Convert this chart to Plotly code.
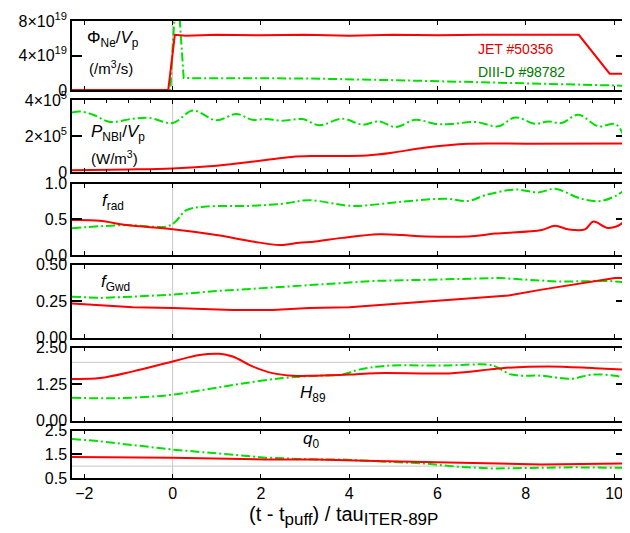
import plotly.graph_objects as go

# ---------------- data ----------------
# Panel 1: Phi_Ne / Vp  (units of 1e19 /m^3/s)
p1_jet_x = [-2.28, -0.1, 0.05, 0.3, 1.0, 2.0, 3.0, 4.0, 5.0, 6.0, 7.0, 8.0, 9.2, 9.9, 10.27]
p1_jet_y = [0.0, 0.0, 6.4, 6.3, 6.4, 6.35, 6.4, 6.3, 6.4, 6.35, 6.4, 6.4, 6.4, 1.9, 1.9]
p1_d3d_x = [-2.28, -0.05, 0.0, 0.05, 0.15, 0.25, 0.5, 3.0, 5.0, 6.6, 8.5, 10.27]
p1_d3d_y = [0.0, 0.0, 5.0, 9.0, 9.0, 1.4, 1.38, 1.35, 1.15, 0.95, 0.7, 0.5]

# Panel 2: P_NBI / Vp  (units of 1e5 W/m^3)
p2_jet_x = [-2.28, -1.0, 0.0, 1.0, 1.36, 2.11, 2.7, 3.24, 4.4, 5.0, 5.7, 6.7, 8.0, 10.27]
p2_jet_y = [0.1, 0.14, 0.2, 0.35, 0.44, 0.67, 0.84, 0.89, 0.92, 1.08, 1.35, 1.57, 1.57, 1.58]
p2_d3d_x = [-2.28, -2.1, -1.8, -1.42, -0.9, -0.52, 0.0, 0.46, 0.99, 1.44, 1.81, 2.11, 2.49, 2.94,
            3.32, 3.84, 4.30, 4.67, 5.05, 5.50, 5.95, 6.33, 6.86, 7.38, 7.76, 8.21, 8.51, 8.81,
            9.19, 9.64, 10.02, 10.17, 10.27]
p2_d3d_y = [3.30, 3.36, 3.18, 2.78, 2.96, 3.0, 2.72, 3.41, 2.87, 3.22, 2.90, 2.94, 2.85, 2.94,
            2.6, 2.96, 2.63, 2.81, 2.50, 2.90, 2.67, 2.67, 2.78, 2.54, 3.03, 2.68, 2.81, 2.72,
            3.18, 2.54, 2.67, 2.26, 1.1]

# Panel 3: f_rad
p3_jet_x = [-2.28, -1.65, -1.05, 0.0, 0.99, 1.81, 2.42, 2.87, 3.24, 3.84, 4.67, 5.20, 5.73, 6.70,
            7.31, 8.36, 8.66, 8.96, 9.34, 9.53, 9.86, 10.17, 10.27]
p3_jet_y = [0.49, 0.48, 0.42, 0.36, 0.28, 0.19, 0.14, 0.17, 0.19, 0.24, 0.29, 0.28, 0.26, 0.26,
            0.30, 0.35, 0.41, 0.36, 0.36, 0.47, 0.38, 0.44, 0.54]
p3_d3d_x = [-2.28, -1.05, -0.14, 0.05, 0.31, 0.76, 1.74, 2.49, 3.09, 4.07, 5.20, 6.18, 6.70, 7.08,
            7.76, 8.28, 8.66, 9.26, 9.71, 10.09, 10.27]
p3_d3d_y = [0.375, 0.42, 0.40, 0.46, 0.63, 0.68, 0.69, 0.72, 0.77, 0.69, 0.75, 0.79, 0.76, 0.84,
            0.92, 0.88, 0.93, 0.79, 0.76, 0.85, 0.93]

# Panel 4: f_Gwd
p4_jet_x = [-2.28, -1.8, -0.9, 0.0, 1.36, 2.26, 3.09, 4.0, 5.35, 6.48, 7.61, 8.36, 9.26, 10.02, 10.27]
p4_jet_y = [0.235, 0.225, 0.21, 0.205, 0.19, 0.19, 0.205, 0.21, 0.24, 0.26, 0.29, 0.33, 0.375, 0.41, 0.41]
p4_d3d_x = [-2.28, -1.65, -0.75, 0.0, 0.99, 2.11, 3.09, 4.6, 6.1, 7.38, 8.74, 9.86, 10.27]
p4_d3d_y = [0.282, 0.273, 0.284, 0.296, 0.32, 0.343, 0.36, 0.39, 0.40, 0.41, 0.385, 0.39, 0.38]

# Panel 5: H89
p5_jet_x = [-2.28, -1.65, -0.9, 0.0, 0.61, 1.06, 1.36, 1.81, 2.26, 2.72, 3.24, 4.0, 4.6, 6.33,
            7.16, 7.46, 8.51, 9.56, 10.27]
p5_jet_y = [1.43, 1.46, 1.69, 2.03, 2.25, 2.29, 2.20, 1.86, 1.63, 1.54, 1.54, 1.58, 1.63, 1.63,
            1.75, 1.80, 1.86, 1.80, 1.75]
p5_d3d_x = [-2.28, -1.27, -0.14, 0.76, 1.51, 2.49, 3.24, 3.84, 4.22, 4.82, 6.10, 7.16, 7.31, 7.68,
            8.36, 9.04, 9.49, 10.02, 10.27]
p5_d3d_y = [0.79, 0.77, 0.87, 1.07, 1.26, 1.46, 1.54, 1.58, 1.75, 1.88, 1.89, 1.92, 1.86, 1.58,
            1.54, 1.44, 1.58, 1.54, 1.46]

# Panel 6: q0
p6_jet_x = [-2.28, 0.0, 2.11, 3.24, 4.6, 6.1, 7.61, 8.36, 10.27]
p6_jet_y = [1.39, 1.35, 1.28, 1.28, 1.22, 1.15, 1.11, 1.07, 1.11]
p6_d3d_x = [-2.28, -1.65, 0.0, 1.36, 2.11, 3.24, 3.84, 5.73, 6.48, 7.23, 9.11, 10.27]
p6_d3d_y = [2.15, 2.05, 1.70, 1.49, 1.36, 1.28, 1.28, 1.11, 0.97, 0.90, 0.95, 0.93]

x_range = [-2.28, 10.27]
x_tickvals = [-2, 0, 2, 4, 6, 8, 10]

y_ranges = [[0, 8], [0, 4], [0, 1], [0, 0.5], [0, 2.5], [0.5, 2.5]]
y_tickvals = [[0, 4, 8], [0, 2, 4], [0, 0.5, 1.0], [0, 0.25, 0.5], [0, 1.25, 2.5], [0.5, 1.5, 2.5]]
y_ticktext = [["0", "4×10<sup>19</sup>", "8×10<sup>19</sup>"],
              ["0", "2×10<sup>5</sup>", "4×10<sup>5</sup>"],
              ["0.0", "0.5", "1.0"],
              ["0.00", "0.25", "0.50"],
              ["0.00", "1.25", "2.50"],
              ["0.5", "1.5", "2.5"]]

# ---------------- figure ----------------
# The page body has an 8 px margin, so the figure is drawn 8 px smaller and
# all reference pixel positions are shifted by OFF.
OFF = 8
W, H = 630 - OFF, 533 - OFF
ML, MR, MT, MB = 72 - OFF, 2, 15 - OFF, 55
plot_h = H - MT - MB

def fy(py):
    return (H - MB - (py - OFF)) / plot_h

def fx(px):
    return ((px - OFF) - ML) / (W - ML - MR)

panel_px = [(15, 85), (95, 168), (180, 252), (262, 336), (346, 420), (430, 478)]

RED = "#ff0000"
GREEN = "#00e000"
FONT = "Liberation Sans, Arial, Helvetica, sans-serif"

series = [
    (p1_jet_x, p1_jet_y, p1_d3d_x, p1_d3d_y, "linear"),
    (p2_jet_x, p2_jet_y, p2_d3d_x, p2_d3d_y, "spline"),
    (p3_jet_x, p3_jet_y, p3_d3d_x, p3_d3d_y, "spline"),
    (p4_jet_x, p4_jet_y, p4_d3d_x, p4_d3d_y, "linear"),
    (p5_jet_x, p5_jet_y, p5_d3d_x, p5_d3d_y, "spline"),
    (p6_jet_x, p6_jet_y, p6_d3d_x, p6_d3d_y, "linear"),
]

fig = go.Figure()
layout = dict(
    width=W, height=H,
    margin=dict(l=ML, r=MR, t=MT, b=MB, pad=0),
    paper_bgcolor="white", plot_bgcolor="white",
    showlegend=False,
    font=dict(family=FONT, size=16, color="black"),
)
shapes = []
for i, (jx, jy, dx, dy, shp) in enumerate(series):
    n = i + 1
    xa = "x" if n == 1 else f"x{n}"
    ya = "y" if n == 1 else f"y{n}"
    fig.add_trace(go.Scatter(x=dx, y=dy, mode="lines", xaxis=xa, yaxis=ya,
                             line=dict(color=GREEN, width=2, dash="9px,3px,2px,3px", shape=shp),
                             name="DIII-D #98782", cliponaxis=True))
    fig.add_trace(go.Scatter(x=jx, y=jy, mode="lines", xaxis=xa, yaxis=ya,
                             line=dict(color=RED, width=2, shape=shp),
                             name="JET #50356", cliponaxis=True))
    top, bot = panel_px[i]
    xkey = "xaxis" if n == 1 else f"xaxis{n}"
    ykey = "yaxis" if n == 1 else f"yaxis{n}"
    xdict = dict(domain=[0, 1], anchor=ya, range=x_range, tickvals=x_tickvals,
                 ticks="inside", ticklen=4, tickwidth=1.2, tickcolor="black",
                 showline=True, linecolor="black", linewidth=1.5, mirror="ticks",
                 showgrid=False, zeroline=False, showticklabels=(n == 6),
                 tickfont=dict(size=16))
    if n != 1:
        xdict["matches"] = "x"
    if n == 2:
        xdict["minor"] = dict(dtick=0.5, tick0=0, ticks="inside", ticklen=3, tickcolor="black")
    layout[xkey] = xdict
    layout[ykey] = dict(domain=[fy(bot), fy(top)], anchor=xa, range=y_ranges[i],
                        tickvals=y_tickvals[i], ticktext=y_ticktext[i],
                        ticks="inside", ticklen=10, tickwidth=1.5, tickcolor="black",
                        showline=True, linecolor="black", linewidth=1.5, mirror="ticks",
                        showgrid=False, zeroline=False, tickfont=dict(size=16))
    # vertical grey line at t = tpuff
    shapes.append(dict(type="line", xref=xa, yref=f"{ya} domain", x0=0, x1=0, y0=0, y1=1,
                       line=dict(color="#c8c8c8", width=1), layer="below"))

shapes.append(dict(type="line", xref="x5 domain", yref="y5", x0=0, x1=1, y0=2.0, y1=2.0,
                   line=dict(color="#c8c8c8", width=1), layer="below"))
shapes.append(dict(type="line", xref="x6 domain", yref="y6", x0=0, x1=1, y0=1.0, y1=1.0,
                   line=dict(color="#c8c8c8", width=1), layer="below"))
layout["shapes"] = shapes

def ann(text, px, py, size=16, color="black", xanchor="center"):
    return dict(text=text, x=fx(px), y=fy(py), xref="paper", yref="paper",
                showarrow=False, xanchor=xanchor, yanchor="middle",
                font=dict(family=FONT, size=size, color=color))

SUB = "<sub><span style='font-size:17px'>{}</span></sub>"

layout["annotations"] = [
    ann("Φ<sub>Ne</sub>/<i>V</i><sub>p</sub>", 113, 33, 17),
    ann("(/m<sup>3</sup>/s)", 111, 62, 15),
    ann("<i>P</i><sub>NBI</sub>/<i>V</i><sub>p</sub>", 118, 128, 17),
    ann("(W/m<sup>3</sup>)", 115, 153, 15),
    ann("<i>f</i><sub>rad</sub>", 113, 198, 17),
    ann("<i>f</i><sub>Gwd</sub>", 116, 280, 17),
    ann("<i>H</i><sub>89</sub>", 314, 393, 17),
    ann("<i>q</i><sub>0</sub>", 312, 440, 17),
    ann("JET #50356", 517, 43, 14, "#e00000"),
    ann("DIII-D #98782", 523, 67, 14, "#007800"),
    ann("(t - t" + SUB.format("puff") + ") / tau" + SUB.format("ITER-89P"), 344, 517, 20),
]

fig.update_layout(**layout)
fig.write_html("out.html")
